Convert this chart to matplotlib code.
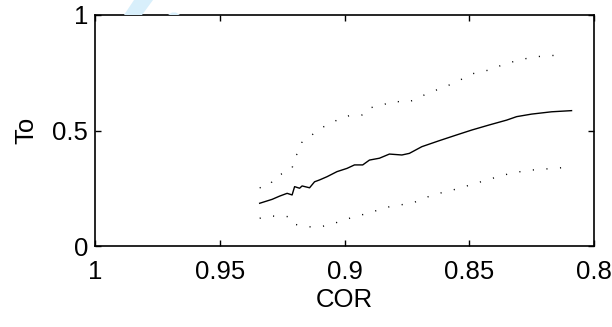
import matplotlib

matplotlib.use("Agg")

import matplotlib.pyplot as plt
from matplotlib.patches import Polygon

plt.rcParams.update({
    "font.family": "sans-serif",
    "font.sans-serif": ["Liberation Sans", "DejaVu Sans"],
})

# mean curve
cor_mid = [0.934, 0.929, 0.926, 0.923, 0.921, 0.920, 0.918, 0.917, 0.914, 0.912,
           0.910, 0.907, 0.903, 0.899, 0.896, 0.8927, 0.890, 0.886, 0.882, 0.877,
           0.874, 0.869, 0.862, 0.855, 0.849, 0.842, 0.835, 0.831, 0.825, 0.817, 0.809]
to_mid = [0.185, 0.202, 0.216, 0.228, 0.221, 0.257, 0.250, 0.260, 0.252, 0.278,
          0.286, 0.300, 0.322, 0.336, 0.351, 0.351, 0.372, 0.380, 0.398, 0.394,
          0.401, 0.430, 0.456, 0.481, 0.502, 0.524, 0.545, 0.560, 0.571, 0.581, 0.586]

# upper bound
cor_hi = [0.934, 0.930, 0.928, 0.924, 0.921, 0.920, 0.918, 0.917, 0.913, 0.910,
          0.905, 0.902, 0.897, 0.893, 0.891, 0.886, 0.880, 0.876, 0.872, 0.866,
          0.861, 0.855, 0.849, 0.842, 0.835, 0.827, 0.821, 0.8127]
to_hi = [0.252, 0.261, 0.300, 0.317, 0.336, 0.387, 0.408, 0.452, 0.481, 0.509,
         0.531, 0.553, 0.567, 0.567, 0.596, 0.606, 0.628, 0.620, 0.632, 0.665,
         0.683, 0.711, 0.745, 0.762, 0.791, 0.812, 0.822, 0.827]

# lower bound
cor_lo = [0.934, 0.930, 0.922, 0.920, 0.9153, 0.911, 0.906, 0.899, 0.891, 0.882,
          0.8725, 0.8647, 0.8567, 0.8487, 0.8407, 0.8327, 0.8247, 0.8127]
to_lo = [0.120, 0.130, 0.127, 0.094, 0.084, 0.081, 0.091, 0.117, 0.141, 0.170,
         0.187, 0.221, 0.242, 0.267, 0.293, 0.317, 0.329, 0.339]

xticks = [1, 0.95, 0.9, 0.85, 0.8]
xtick_labels = ["1", "0.95", "0.9", "0.85", "0.8"]
yticks = [0, 0.5, 1]
ytick_labels = ["0", "0.5", "1"]

fig = plt.figure(figsize=(6.12, 3.27), dpi=100)

# faint watermark strokes in the top-left corner (pixel coords, y from top)
wm = "#d8effb"
for pts in ([(124, 15), (142, 15), (153, 0), (134, 0)],
            [(168, 15), (180, 15), (176, 12.5), (172, 12.5)]):
    fig.patches.append(Polygon([(x, 327 - y) for x, y in pts], closed=True,
                               transform=None, facecolor=wm,
                               edgecolor="none", zorder=0))

ax = fig.add_axes([95 / 612, 1 - 246 / 327, 499 / 612, 231 / 327])
ax.patch.set_alpha(0)

ax.plot(cor_mid, to_mid, color="black", lw=1.0)
ax.plot(cor_hi, to_hi, color="black", lw=1.0, linestyle=(0, (0.8, 9)))
ax.plot(cor_lo, to_lo, color="black", lw=1.0, linestyle=(0, (0.8, 9)))

ax.set_xlim(1, 0.8)
ax.set_ylim(0, 1)
ax.set_xticks(xticks)
ax.set_xticklabels(xtick_labels)
ax.set_yticks(yticks)
ax.set_yticklabels(ytick_labels)
ax.tick_params(direction="in", length=4, width=1, labelsize=18.5,
               top=True, right=True)
ax.tick_params(axis="x", pad=10)
ax.tick_params(axis="y", pad=5)
for spine in ax.spines.values():
    spine.set_linewidth(1.2)

ax.set_xlabel("COR", fontsize=18.5, labelpad=3)
ax.set_ylabel("To", fontsize=18.5, labelpad=10)

fig.savefig("out.png", dpi=100)
